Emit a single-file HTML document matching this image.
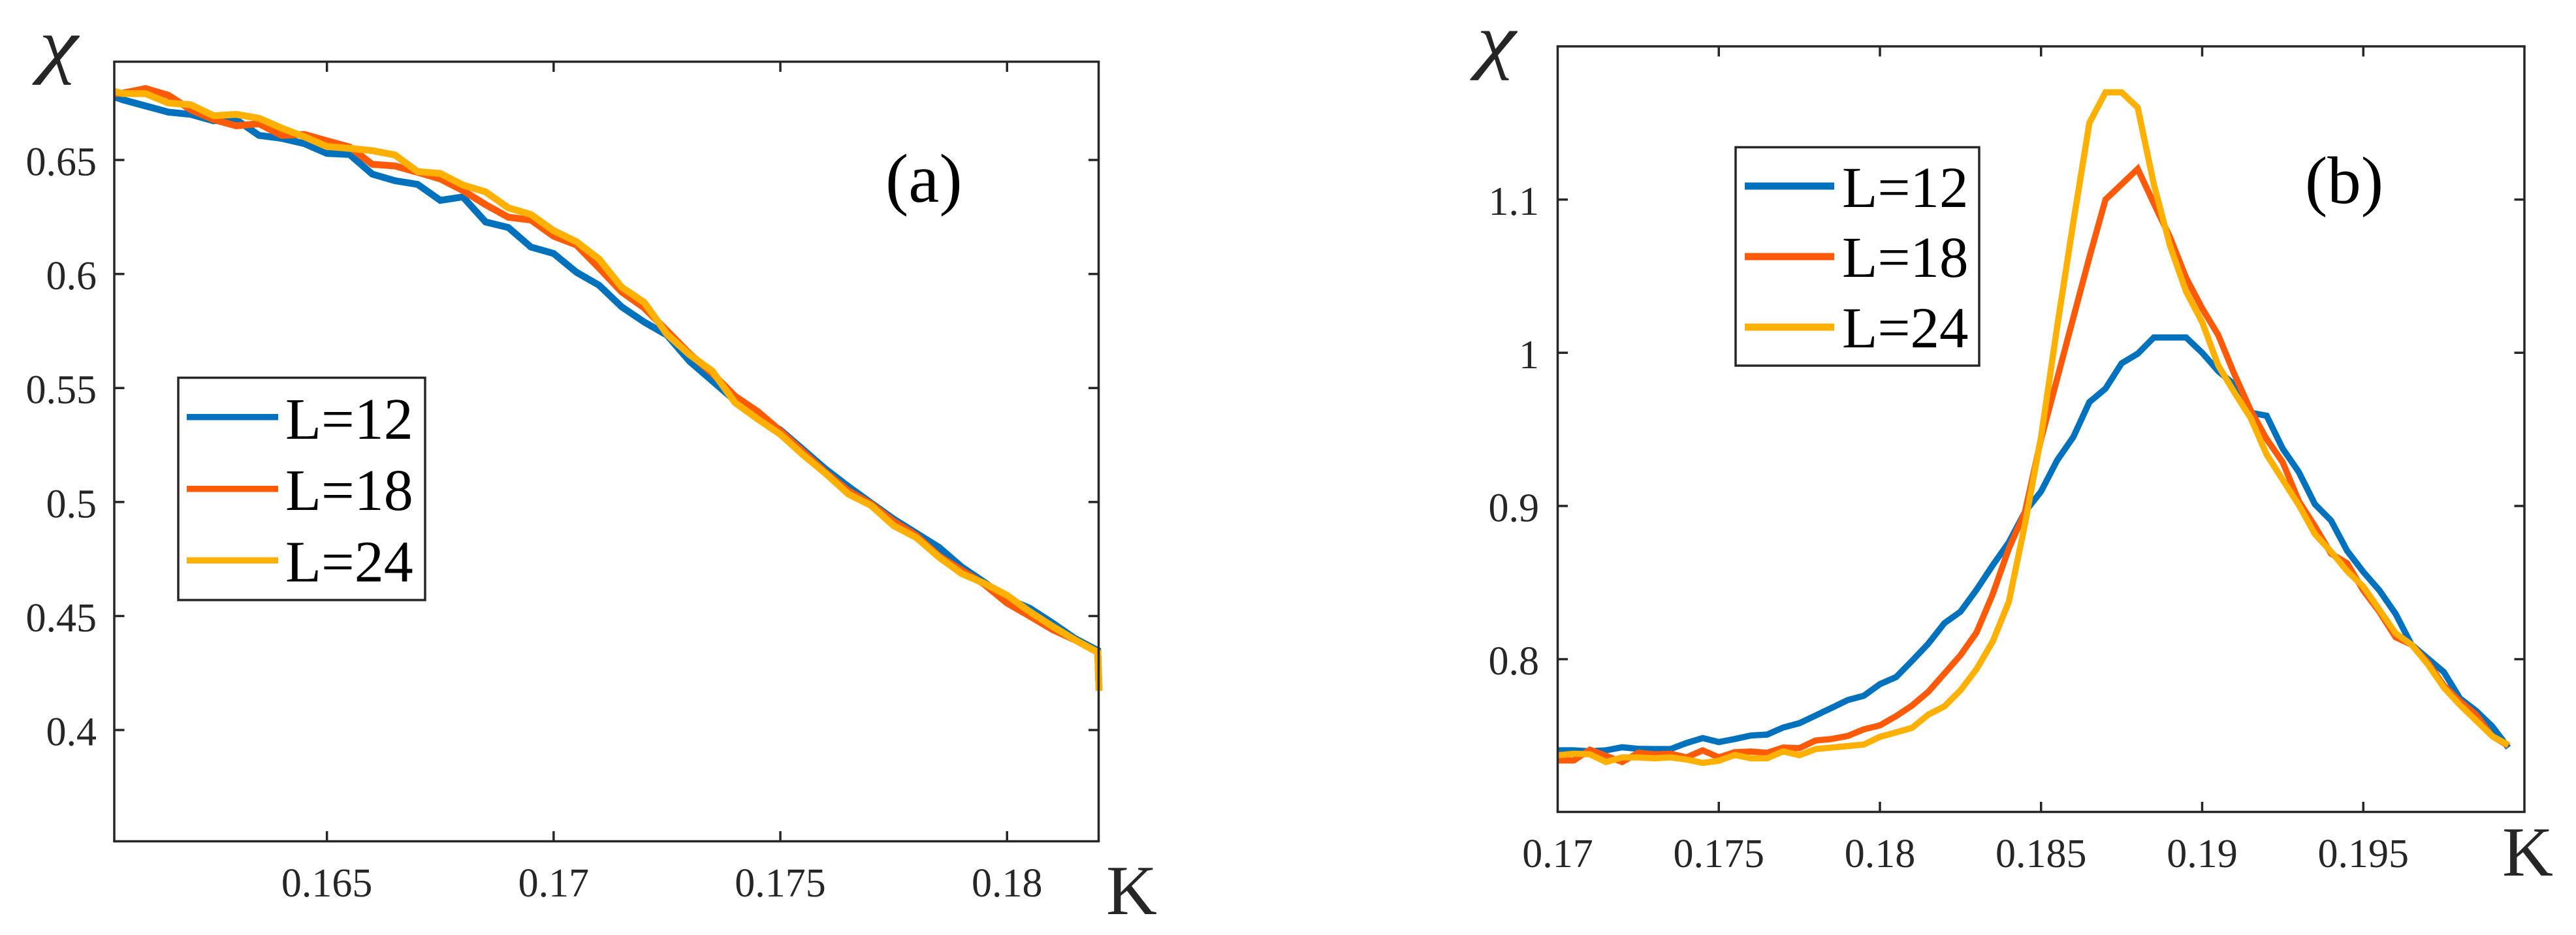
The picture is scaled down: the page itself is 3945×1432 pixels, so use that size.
<!DOCTYPE html>
<html lang="en">
<head>
<meta charset="utf-8">
<title>Susceptibility versus K for L=12, 18, 24</title>
<style>
html,body{margin:0;padding:0;background:#fff;}
svg{display:block;}
text{font-family:"Liberation Serif","DejaVu Serif",serif;}
</style>
</head>
<body>
<svg id="figure" xmlns="http://www.w3.org/2000/svg" width="3945" height="1432" viewBox="0 0 3945 1432">
  <rect x="0" y="0" width="3945" height="1432" fill="#ffffff"/>
  <g id="panel-a"></g>
  <g id="panel-b"></g>

  <text transform="translate(60,106) scale(1.25,1.04)" font-size="108" font-style="italic" fill="#262626">χ</text>
  <text x="1694" y="1400" font-size="108" fill="#262626">K</text>
  <text x="1356" y="309" font-size="106" fill="#000000">(a)</text>

  <text transform="translate(2262,99) scale(1.25,1.04)" font-size="108" font-style="italic" fill="#262626">χ</text>
  <text x="3832" y="1341" font-size="108" fill="#262626">K</text>
  <text x="3530" y="311" font-size="103" fill="#000000">(b)</text>

  <g>
    <rect x="273" y="578.5" width="378" height="340.5" fill="#ffffff" stroke="#262626" stroke-width="3.5"/>
    <g>
      <rect x="286" y="634" width="140" height="9.5" fill="#0072BD"/>
      <text x="437" y="672" font-size="90" fill="#000000">L=12</text>
    </g>
    <g>
      <rect x="286" y="744" width="140" height="9.5" fill="#FF5A08"/>
      <text x="437" y="781" font-size="90" fill="#000000">L=18</text>
    </g>
    <g>
      <rect x="286" y="853.5" width="140" height="9.5" fill="#FFB000"/>
      <text x="437" y="890.5" font-size="90" fill="#000000">L=24</text>
    </g>
  </g>

  <g>
    <rect x="2658" y="225.5" width="373" height="334.5" fill="#ffffff" stroke="#262626" stroke-width="3.5"/>
    <g>
      <rect x="2672" y="279.5" width="137" height="11" fill="#0072BD"/>
      <text x="2821" y="317" font-size="89" fill="#000000">L=12</text>
    </g>
    <g>
      <rect x="2672" y="387.5" width="137" height="11" fill="#FF5A08"/>
      <text x="2821" y="424" font-size="89" fill="#000000">L=18</text>
    </g>
    <g>
      <rect x="2672" y="495.5" width="137" height="11" fill="#FFB000"/>
      <text x="2821" y="532" font-size="89" fill="#000000">L=24</text>
    </g>
  </g>
</svg>
<script>
// ---------- Panel (a) data ----------
const kA = [0.16031,0.1605,0.161,0.1615,0.162,0.1625,0.163,0.1635,0.164,0.1645,0.165,0.1655,0.166,0.1665,0.167,0.1675,0.168,0.1685,0.169,0.1695,0.17,0.1705,0.171,0.1715,0.172,0.1725,0.173,0.1735,0.174,0.1745,0.175,0.1755,0.176,0.1765,0.177,0.1775,0.178,0.1785,0.179,0.1795,0.18,0.1805,0.181,0.1815,0.182,0.18203];
const chiA12 = [0.6777,0.6764,0.6737,0.6710,0.6700,0.6672,0.6677,0.6608,0.6595,0.6572,0.6529,0.6524,0.6438,0.6409,0.6393,0.6323,0.6338,0.6228,0.6204,0.6118,0.6090,0.6008,0.5951,0.5856,0.5789,0.5732,0.5617,0.5531,0.5445,0.5374,0.5316,0.5230,0.5144,0.5068,0.4996,0.4925,0.4863,0.4801,0.4715,0.4648,0.4576,0.4534,0.4470,0.4401,0.4349,0.4175];
const chiA18 = [0.6791,0.6793,0.6813,0.6784,0.6720,0.6677,0.6650,0.6659,0.6608,0.6612,0.6584,0.6557,0.6481,0.6474,0.6446,0.6417,0.6366,0.6304,0.6249,0.6237,0.6166,0.6128,0.6027,0.5922,0.5851,0.5751,0.5650,0.5564,0.5464,0.5397,0.5312,0.5221,0.5130,0.5049,0.4992,0.4915,0.4853,0.4763,0.4701,0.4639,0.4557,0.4500,0.4441,0.4395,0.4341,0.4175];
const chiA24 = [0.6801,0.6791,0.6791,0.6750,0.6742,0.6694,0.6700,0.6683,0.6640,0.6602,0.6559,0.6551,0.6541,0.6522,0.6449,0.6441,0.6390,0.6360,0.6290,0.6261,0.6190,0.6142,0.6066,0.5942,0.5875,0.5736,0.5646,0.5574,0.5436,0.5364,0.5297,0.5207,0.5125,0.5035,0.4985,0.4896,0.4844,0.4758,0.4686,0.4643,0.4591,0.4519,0.4455,0.4395,0.4341,0.4172];
const xTicksA = [0.165,0.17,0.175,0.18];
const xTickLabelsA = ['0.165','0.17','0.175','0.18'];
const yTicksA = [0.4,0.45,0.5,0.55,0.6,0.65];
const yTickLabelsA = ['0.4','0.45','0.5','0.55','0.6','0.65'];

// ---------- Panel (b) data ----------
const kB = [0.17,0.1705,0.171,0.1715,0.172,0.1725,0.173,0.1735,0.174,0.1745,0.175,0.1755,0.176,0.1765,0.177,0.1775,0.178,0.1785,0.179,0.1795,0.18,0.1805,0.181,0.1815,0.182,0.1825,0.183,0.1835,0.184,0.1845,0.185,0.1855,0.186,0.1865,0.187,0.1875,0.188,0.1885,0.189,0.1895,0.19,0.1905,0.191,0.1915,0.192,0.1925,0.193,0.1935,0.194,0.1945,0.195,0.1955,0.196,0.1965,0.197,0.1975,0.198,0.1985,0.199,0.1995];
const chiB12 = [0.7405,0.7405,0.7399,0.7405,0.7425,0.7415,0.7413,0.7413,0.7453,0.7485,0.7459,0.7479,0.7502,0.7508,0.7554,0.7582,0.7632,0.7682,0.7733,0.7761,0.7837,0.7883,0.7990,0.8101,0.8235,0.8310,0.8454,0.8613,0.8762,0.8961,0.9095,0.9298,0.9450,0.9678,0.9766,0.9931,0.9994,1.01,1.01,1.01,1.0,0.988,0.9792,0.9609,0.9589,0.9374,0.9221,0.9011,0.8905,0.8707,0.8570,0.8449,0.8297,0.8094,0.8005,0.7916,0.7744,0.7663,0.7562,0.7422];
const chiB18 = [0.7339,0.7339,0.7409,0.7369,0.7329,0.7389,0.7379,0.7383,0.7359,0.7405,0.7359,0.7393,0.7397,0.7389,0.7423,0.7419,0.7469,0.7479,0.7499,0.7542,0.7568,0.7628,0.7698,0.7787,0.7906,0.8026,0.8175,0.8424,0.8722,0.8961,0.9436,0.9831,1.0228,1.0623,1.10,1.11,1.12,1.0975,1.0755,1.049,1.029,1.0115,0.986,0.9627,0.9437,0.9285,0.9031,0.8867,0.8689,0.8626,0.8449,0.8309,0.8144,0.8094,0.7980,0.7828,0.7726,0.7638,0.7498,0.7435];
const chiB24 = [0.7373,0.7383,0.7379,0.7329,0.7359,0.7359,0.7353,0.7359,0.7345,0.7323,0.7337,0.7375,0.7353,0.7353,0.7399,0.7373,0.7413,0.7423,0.7433,0.7443,0.7493,0.7522,0.7552,0.7638,0.7692,0.7797,0.7936,0.8115,0.8374,0.8880,0.945,1.017,1.085,1.15,1.17,1.17,1.16,1.11,1.07,1.04,1.02,0.9917,0.9741,0.9576,0.9336,0.9171,0.9006,0.8816,0.8702,0.8575,0.8474,0.8322,0.8170,0.8094,0.7967,0.7815,0.7701,0.7600,0.7498,0.7440];
const xTicksB = [0.175,0.18,0.185,0.19,0.195];
const xTickLabelsB = ['0.175','0.18','0.185','0.19','0.195'];
const xEdgeLabelB = '0.17';
const xEdgeTickB = 0.17;
const yTicksB = [0.8,0.9,1,1.1];
const yTickLabelsB = ['0.8','0.9','1','1.1'];

const seriesNames = ['L=12','L=18','L=24'];
const seriesColors = ['#0072BD','#FF5A08','#FFB000'];

const NS = 'http://www.w3.org/2000/svg';
const AXIS_COLOR = '#262626';
const AXIS_WIDTH = 3.5;
const TICK_LEN = 15.5;
const TICK_FONT = 62;

function linearScale(d0, d1, r0, r1) {
  return function (v) { return r0 + (v - d0) / (d1 - d0) * (r1 - r0); };
}

function drawLine(parent, name, x1, y1, x2, y2) {
  const el = document.createElementNS(NS, 'line');
  
  
  el.setAttribute('x1', x1);
  el.setAttribute('y1', y1);
  el.setAttribute('x2', x2);
  el.setAttribute('y2', y2);
  el.setAttribute('stroke', AXIS_COLOR);
  el.setAttribute('stroke-width', AXIS_WIDTH);
  parent.appendChild(el);
}

function drawLabel(parent, name, str, x, y, anchor) {
  const el = document.createElementNS(NS, 'text');
  
  
  el.setAttribute('x', x);
  el.setAttribute('y', y);
  el.setAttribute('text-anchor', anchor);
  el.setAttribute('font-size', TICK_FONT);
  el.setAttribute('fill', AXIS_COLOR);
  el.textContent = str;
  parent.appendChild(el);
}

function drawSeries(parent, name, xs, ys, sx, sy, color, width) {
  const el = document.createElementNS(NS, 'polyline');
  
  
  el.setAttribute('points', xs.map(function (k, i) { return sx(k).toFixed(2) + ',' + sy(ys[i]).toFixed(2); }).join(' '));
  el.setAttribute('fill', 'none');
  el.setAttribute('stroke', color);
  el.setAttribute('stroke-width', width);
  el.setAttribute('stroke-linejoin', 'miter');
  el.setAttribute('stroke-linecap', 'butt');
  parent.appendChild(el);
}

function drawPanel(cfg) {
  const g = document.getElementById(cfg.id);
  const sx = linearScale(cfg.xlim[0], cfg.xlim[1], cfg.left, cfg.right);
  const sy = linearScale(cfg.ylim[0], cfg.ylim[1], cfg.bottom, cfg.top);

  cfg.xTicks.forEach(function (t, i) {
    const x = sx(t);
    drawLine(g, 'x-tick-bottom', x, cfg.bottom, x, cfg.bottom - TICK_LEN);
    drawLine(g, 'x-tick-top', x, cfg.top, x, cfg.top + TICK_LEN);
    drawLabel(g, 'x-tick-label', cfg.xLabels[i], x, cfg.xLabelY, 'middle');
  });
  cfg.yTicks.forEach(function (t, i) {
    const y = sy(t);
    drawLine(g, 'y-tick-left', cfg.left, y, cfg.left + TICK_LEN, y);
    drawLine(g, 'y-tick-right', cfg.right, y, cfg.right - TICK_LEN, y);
    drawLabel(g, 'y-tick-label', cfg.yLabels[i], cfg.yLabelX, y + 23.5, 'end');
  });

  cfg.series.forEach(function (ys, i) {
    drawSeries(g, 'series-' + seriesNames[i].replace('=', '').toLowerCase(), cfg.k, ys, sx, sy, seriesColors[i], cfg.lineWidth);
  });

  const half = AXIS_WIDTH / 2;
  drawLine(g, 'axis-top', cfg.left - half, cfg.top, cfg.right + half, cfg.top);
  drawLine(g, 'axis-bottom', cfg.left - half, cfg.bottom, cfg.right + half, cfg.bottom);
  drawLine(g, 'axis-left', cfg.left, cfg.top, cfg.left, cfg.bottom);
  drawLine(g, 'axis-right', cfg.right, cfg.top, cfg.right, cfg.bottom);

  if (cfg.edgeTickLabel) {
    drawLabel(g, 'x-tick-label', cfg.edgeTickLabel, sx(cfg.edgeTick), cfg.xLabelY, 'middle');
  }
}

drawPanel({
  id: 'panel-a',
  left: 175, right: 1682.5, top: 94.5, bottom: 1288.5,
  xlim: [0.16031, 0.18202], ylim: [0.3512, 0.6931],
  xTicks: xTicksA, xLabels: xTickLabelsA, yTicks: yTicksA, yLabels: yTickLabelsA,
  xLabelY: 1373, yLabelX: 148, lineWidth: 10.5,
  k: kA, series: [chiA12, chiA18, chiA24]
});

drawPanel({
  id: 'panel-b',
  left: 2385.5, right: 3866, top: 71, bottom: 1243.5,
  xlim: [0.17, 0.2], ylim: [0.7003, 1.2],
  xTicks: xTicksB, xLabels: xTickLabelsB, yTicks: yTicksB, yLabels: yTickLabelsB,
  xLabelY: 1328, yLabelX: 2357, lineWidth: 9.5,
  edgeTick: xEdgeTickB, edgeTickLabel: xEdgeLabelB,
  k: kB, series: [chiB12, chiB18, chiB24]
});
</script>
</body>
</html>
